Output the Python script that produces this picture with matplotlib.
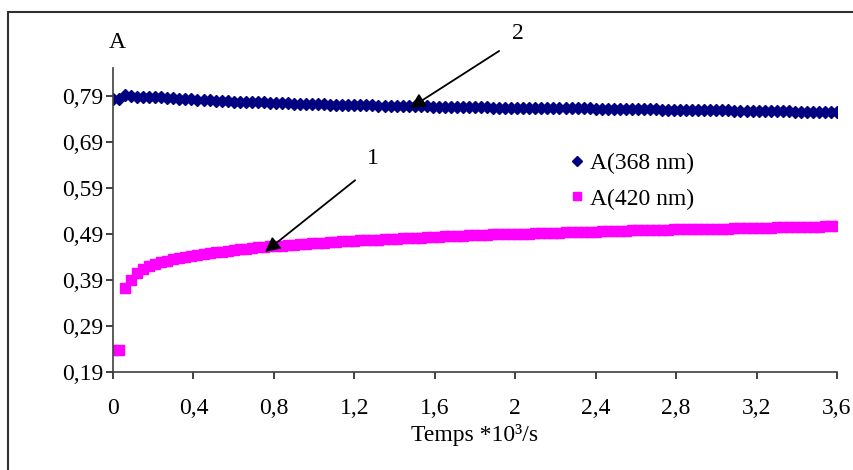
import matplotlib
matplotlib.use("Agg")
import matplotlib.pyplot as plt
import matplotlib.patches as mpatches
from matplotlib.ticker import FixedLocator

plt.rcParams['font.family'] = ['Liberation Serif', 'DejaVu Serif']

# sampling times in seconds (every 30 s), plotted in 10^3 s
time_s = list(range(0, 3601, 30))
time_k = [t / 1000 for t in time_s]

a368 = [0.783, 0.784, 0.792, 0.790, 0.789, 0.788, 0.788, 0.787, 0.787, 0.786, 0.785,
        0.784, 0.784, 0.783, 0.782, 0.782, 0.781, 0.780, 0.780, 0.779, 0.778,
        0.778, 0.777, 0.777, 0.776, 0.776, 0.775, 0.775, 0.774, 0.774, 0.773, 0.773, 0.772, 0.772,
        0.772, 0.772, 0.771, 0.771, 0.771, 0.771, 0.770, 0.770, 0.770, 0.770, 0.769, 0.769, 0.769,
        0.769, 0.768, 0.768, 0.768,
        0.768, 0.768, 0.767, 0.767, 0.767, 0.767, 0.767, 0.766, 0.766, 0.766, 0.766, 0.766, 0.765,
        0.765, 0.765, 0.765, 0.765,
        0.765, 0.764, 0.764, 0.764, 0.764, 0.764, 0.763, 0.763, 0.763, 0.763, 0.763, 0.763, 0.762,
        0.762, 0.762, 0.762,
        0.762, 0.762, 0.761, 0.761, 0.761, 0.761, 0.761, 0.760, 0.760, 0.760, 0.760, 0.760, 0.760,
        0.759, 0.759, 0.759, 0.759,
        0.759, 0.759, 0.758, 0.758, 0.758, 0.758, 0.758, 0.757, 0.757, 0.757, 0.757, 0.757, 0.756,
        0.756, 0.756, 0.756, 0.756, 0.755, 0.755, 0.755]

a420 = [0.238, 0.238, 0.372, 0.391, 0.405, 0.415, 0.420, 0.425, 0.429, 0.432,
        0.435, 0.438, 0.440, 0.443, 0.445, 0.447, 0.449, 0.451, 0.452, 0.454,
        0.455, 0.457, 0.458, 0.459, 0.461, 0.462, 0.463, 0.464, 0.465, 0.466,
        0.467, 0.468, 0.469, 0.470, 0.471, 0.471, 0.472, 0.473, 0.474, 0.475,
        0.475, 0.476, 0.477, 0.477, 0.478, 0.479, 0.479, 0.480, 0.481, 0.481,
        0.482, 0.482, 0.483, 0.484, 0.484, 0.485, 0.485, 0.486, 0.486, 0.487,
        0.487, 0.488, 0.488, 0.489, 0.489, 0.489, 0.490, 0.490, 0.491, 0.491,
        0.492, 0.492, 0.492, 0.493, 0.493, 0.494, 0.494, 0.494, 0.495, 0.495,
        0.495, 0.496, 0.496, 0.497, 0.497, 0.497, 0.498, 0.498, 0.498, 0.499,
        0.499, 0.499, 0.499, 0.500, 0.500, 0.500, 0.501, 0.501, 0.501, 0.502,
        0.502, 0.502, 0.502, 0.503, 0.503, 0.503, 0.504, 0.504, 0.504, 0.504,
        0.505, 0.505, 0.505, 0.505, 0.506, 0.506, 0.506, 0.506, 0.507, 0.507, 0.507]

x_ticks = [0, 0.4, 0.8, 1.2, 1.6, 2.0, 2.4, 2.8, 3.2, 3.6]
x_tick_labels = ['0', '0,4', '0,8', '1,2', '1,6', '2', '2,4', '2,8', '3,2', '3,6']
y_ticks = [0.19, 0.29, 0.39, 0.49, 0.59, 0.69, 0.79]
y_tick_labels = ['0,19', '0,29', '0,39', '0,49', '0,59', '0,69', '0,79']

FS = 17
W, H = 854, 470
fig = plt.figure(figsize=(W / 100, H / 100), dpi=100)
ax = fig.add_axes([113 / W, 1 - 372 / H, (837 - 113) / W, (372 - 68) / H])

ax.plot(time_k, a368, linestyle='none', marker='D', markersize=6.5,
        color='#000080', label='A(368 nm)')
ax.plot(time_k, a420, linestyle='none', marker='s', markersize=7,
        color='#FF00FF', label='A(420 nm)')

ax.set_xlim(0, 3.6)
ax.set_ylim(0.19, 0.851)
ax.xaxis.set_major_locator(FixedLocator(x_ticks))
ax.set_xticklabels(x_tick_labels)
ax.yaxis.set_major_locator(FixedLocator(y_ticks))
ax.set_yticklabels(y_tick_labels)

for s in ['top', 'right']:
    ax.spines[s].set_visible(False)
for s in ['left', 'bottom']:
    ax.spines[s].set_color('#404040')
    ax.spines[s].set_linewidth(1.2)

ax.tick_params(axis='both', direction='out', length=5, width=1.2, color='#202020',
               labelsize=FS, labelcolor='black')
ax.tick_params(axis='x', pad=14)
ax.tick_params(axis='y', pad=2)

ax.set_xlabel('Temps *10³/s', fontsize=FS, labelpad=3)
fig.text(117 / W, 1 - 42 / H, 'A', fontsize=FS, ha='center', va='center')

leg = ax.legend(loc='upper left', bbox_to_anchor=((556 - 113) / (837 - 113), (372 - 143) / (372 - 68)),
                frameon=False, fontsize=FS, handletextpad=0.05, handlelength=1.0,
                labelspacing=0.6, markerscale=0.8, borderaxespad=0)

arrow = dict(arrowstyle='-|>', color='black', lw=1.3, mutation_scale=22,
             shrinkA=0, shrinkB=0)
ax.annotate('', xy=(0.756, 0.451), xytext=(1.204, 0.607), arrowprops=arrow,
            annotation_clip=False)
ax.annotate('', xy=(1.478, 0.764), xytext=(1.920, 0.888), arrowprops=arrow,
            annotation_clip=False)
ax.text(1.294, 0.655, '1', fontsize=FS, ha='center', va='center')
ax.text(2.015, 0.927, '2', fontsize=FS, ha='center', va='center', clip_on=False)

border = mpatches.Rectangle((8 / W, -0.1), 1.2, 1.1 - 12 / H, transform=fig.transFigure,
                            fill=False, edgecolor='#303030', linewidth=1.5)
fig.add_artist(border)

fig.savefig('out.png', dpi=100)
